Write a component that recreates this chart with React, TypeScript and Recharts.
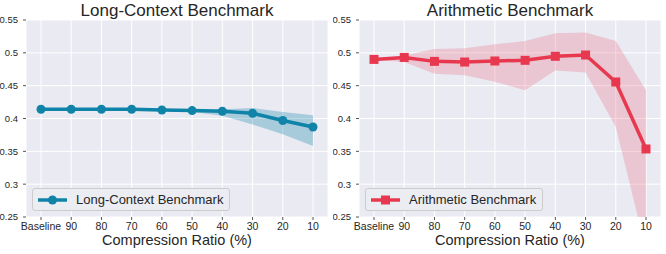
import React from "react";
import {
  ComposedChart,
  Line,
  Area,
  XAxis,
  YAxis,
  CartesianGrid,
} from "recharts";

const categories = ["Baseline", "90", "80", "70", "60", "50", "40", "30", "20", "10"];

const longMean = [0.414, 0.414, 0.414, 0.414, 0.413, 0.412, 0.411, 0.408, 0.397, 0.387];
const longLow = [0.413, 0.413, 0.413, 0.413, 0.412, 0.41, 0.404, 0.391, 0.376, 0.358];
const longHigh = [0.415, 0.415, 0.415, 0.415, 0.414, 0.414, 0.414, 0.416, 0.41, 0.405];

const arithMean = [0.49, 0.493, 0.487, 0.486, 0.4876, 0.4886, 0.4947, 0.4967, 0.4556, 0.3536];
const arithLow = [0.489, 0.486, 0.468, 0.466, 0.456, 0.443, 0.473, 0.47, 0.387, 0.2];
const arithHigh = [0.491, 0.496, 0.506, 0.507, 0.513, 0.518, 0.53, 0.531, 0.518, 0.443];

const yTicks = [0.25, 0.3, 0.35, 0.4, 0.45, 0.5, 0.55];
const yMinorTicks = [
  0.26, 0.27, 0.28, 0.29, 0.31, 0.32, 0.33, 0.34, 0.36, 0.37, 0.38, 0.39,
  0.41, 0.42, 0.43, 0.44, 0.46, 0.47, 0.48, 0.49, 0.51, 0.52, 0.53, 0.54,
];

const FONT = "'Liberation Sans', Arial, sans-serif";
const TEXT = "#262626";
const BG = "#EAEAF2";

const BLUE = "#0f83a8";
const RED = "#e8384f";

function build(mean: number[], low: number[], high: number[]) {
  return categories.map((c, i) => ({
    label: c,
    mean: mean[i],
    band: [low[i], high[i]],
  }));
}

function SquareDot(props: any) {
  const { cx, cy, key } = props;
  if (cx == null || cy == null) return null;
  return <rect key={key} x={cx - 4.5} y={cy - 4.5} width={9} height={9} fill={RED} />;
}

function Panel({
  title,
  data,
  color,
  square,
  left,
}: {
  title: string;
  data: any[];
  color: string;
  square?: boolean;
  left: number;
}) {
  return (
    <div style={{ position: "absolute", left, top: 0, width: 333, height: 254 }}>
      <ComposedChart
        width={333}
        height={254}
        data={data}
        margin={{ top: 20, right: 5, bottom: 0, left: 0 }}
      >
        <CartesianGrid fill={BG} stroke="#ffffff" strokeWidth={1} />
        <XAxis
          dataKey="label"
          interval={0}
          padding={{ left: 15, right: 15 }}
          axisLine={false}
          tickSize={3}
          tickMargin={3}
          tickLine={{ stroke: "#555" }}
          tick={{ fontSize: 10.5, fill: TEXT, fontFamily: FONT }}
          height={37}
          label={{
            value: "Compression Ratio (%)",
            position: "insideBottom",
            offset: 9,
            fontSize: 14.5,
            fill: TEXT,
            fontFamily: FONT,
          }}
        />
        <YAxis
          yAxisId="minor"
          mirror
          width={0}
          domain={[0.25, 0.55]}
          allowDataOverflow
          ticks={yMinorTicks}
          tick={false}
          tickSize={-1.5}
          axisLine={false}
          tickLine={{ stroke: "#777" }}
        />
        <YAxis
          domain={[0.25, 0.55]}
          allowDataOverflow
          ticks={yTicks}
          interval={0}
          width={26}
          axisLine={false}
          tickSize={3}
          tickMargin={5}
          tickLine={{ stroke: "#555" }}
          tick={{ fontSize: 9.5, fill: TEXT, fontFamily: FONT }}
        />
        <Area
          type="linear"
          dataKey="band"
          stroke="none"
          fill={color}
          fillOpacity={square ? 0.2 : 0.3}
          isAnimationActive={false}
          activeDot={false}
        />
        <Line
          type="linear"
          dataKey="mean"
          stroke={color}
          strokeWidth={3.5}
          dot={square ? SquareDot : { r: 4.5, fill: color, stroke: color, strokeWidth: 0 }}
          activeDot={false}
          isAnimationActive={false}
        />
      </ComposedChart>
      <div
        style={{
          position: "absolute",
          left: 26,
          width: 302,
          top: 2,
          textAlign: "center",
          fontSize: 17,
          lineHeight: "17px",
          color: TEXT,
          fontFamily: FONT,
        }}
      >
        {title}
      </div>
      <div
        style={{
          position: "absolute",
          left: 32,
          top: 188,
          height: 21,
          padding: "0 6px 0 5px",
          display: "flex",
          alignItems: "center",
          background: "#ecedf3",
          border: "1px solid #cccccc",
          borderRadius: 3,
          fontFamily: FONT,
          fontSize: 13,
          color: TEXT,
        }}
      >
        <svg width={29} height={12} style={{ marginRight: 9 }}>
          <line x1={0} y1={6} x2={29} y2={6} stroke={color} strokeWidth={3.5} />
          {square ? (
            <rect x={10} y={1.5} width={9} height={9} fill={color} />
          ) : (
            <circle cx={14.5} cy={6} r={4.5} fill={color} />
          )}
        </svg>
        <span>{title}</span>
      </div>
    </div>
  );
}

export default function App() {
  const longData = build(longMean, longLow, longHigh);
  const arithData = build(arithMean, arithLow, arithHigh);
  return (
    <div style={{ position: "absolute", left: 0, top: 0, width: 666, height: 254, background: "#fff" }}>
      <Panel title="Long-Context Benchmark" data={longData} color={BLUE} left={0} />
      <Panel title="Arithmetic Benchmark" data={arithData} color={RED} square left={333} />
    </div>
  );
}
